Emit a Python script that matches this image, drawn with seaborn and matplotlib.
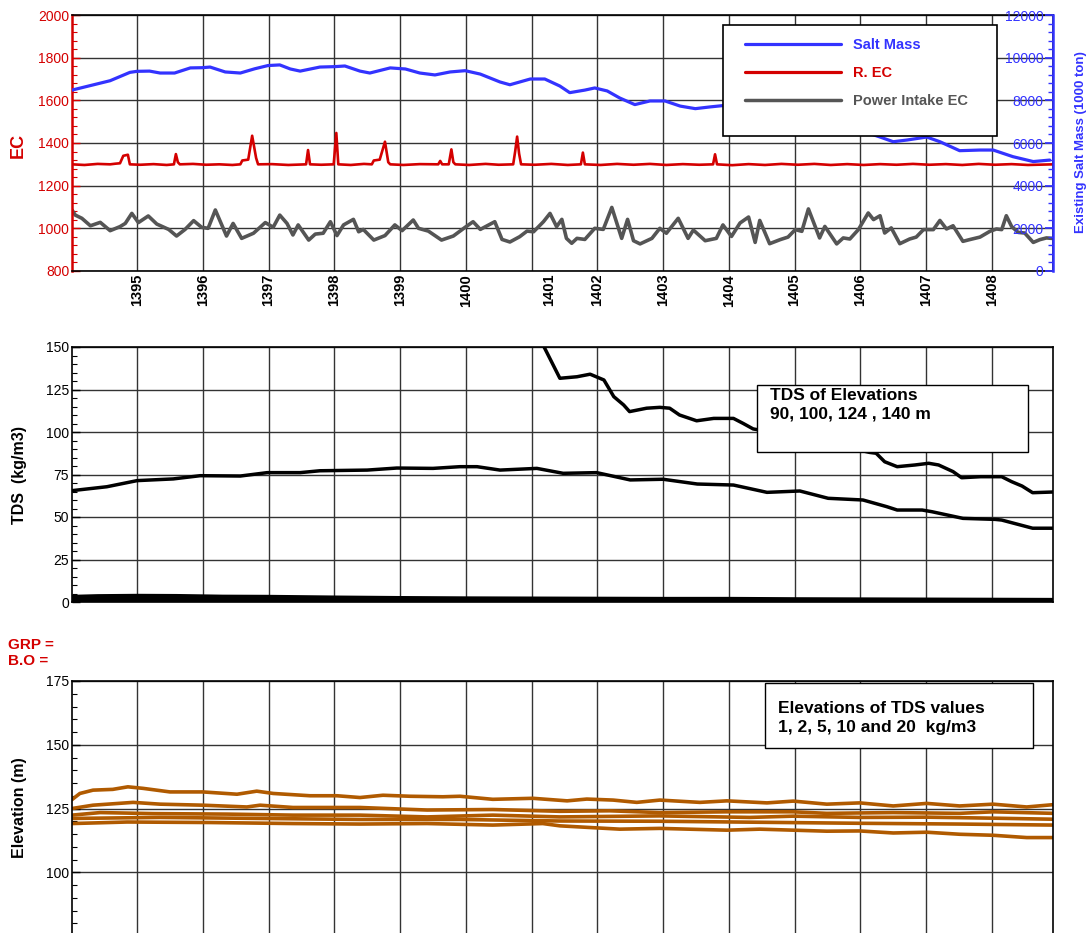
import matplotlib
matplotlib.use("Agg")
import matplotlib.pyplot as plt
import numpy as np
import pandas as pd
import seaborn as sns
from matplotlib.patches import Rectangle
from matplotlib.lines import Line2D
from matplotlib.ticker import MultipleLocator

# ---------------- data ----------------
year_grid = [1395, 1396, 1397, 1398, 1399, 1400, 1401, 1402, 1403, 1404, 1405, 1406, 1407, 1408]
year_label_pos = [1395, 1396, 1397, 1398, 1399, 1400, 1401.26, 1402, 1403, 1404, 1405, 1406, 1407, 1408]
year_labels = ["1395", "1396", "1397", "1398", "1399", "1400", "1401", "1402", "1403", "1404",
               "1405", "1406", "1407", "1408"]

# Existing salt mass (1000 ton)
salt_mass = [
    (1394.01, 8480), (1394.59, 8920), (1394.89, 9310), (1395.00, 9360), (1395.19, 9370), (1395.35, 9280),
    (1395.57, 9280), (1395.81, 9520), (1395.99, 9530), (1396.11, 9560), (1396.34, 9330), (1396.57, 9280),
    (1396.79, 9480), (1396.99, 9630), (1397.17, 9660), (1397.33, 9470), (1397.48, 9370), (1397.78, 9560),
    (1398.01, 9580), (1398.16, 9610), (1398.39, 9370), (1398.54, 9280), (1398.85, 9520), (1399.08, 9470),
    (1399.30, 9280), (1399.53, 9190), (1399.76, 9330), (1399.99, 9390), (1400.22, 9230), (1400.52, 8860),
    (1400.67, 8730), (1400.98, 9000), (1401.20, 9000), (1401.43, 8670), (1401.58, 8360), (1401.81, 8480),
    (1401.96, 8580), (1402.15, 8440), (1402.34, 8110), (1402.57, 7800), (1402.80, 7970), (1403.03, 7970),
    (1403.26, 7730), (1403.49, 7610), (1403.71, 7690), (1403.90, 7750), (1404.17, 7800), (1404.78, 7600),
    (1405.39, 7150), (1405.99, 6600), (1406.30, 6280), (1406.50, 6060), (1406.71, 6140), (1407.01, 6280),
    (1407.21, 6060), (1407.51, 5640), (1407.82, 5670), (1408.02, 5670), (1408.32, 5360), (1408.63, 5130),
    (1408.88, 5200)]

# River EC
river_ec = [
    (1394.01, 1300), (1394.20, 1297), (1394.40, 1302), (1394.59, 1300), (1394.67, 1303), (1394.74, 1305),
    (1394.79, 1340), (1394.86, 1345), (1394.89, 1300), (1395.05, 1298), (1395.25, 1301), (1395.45, 1297),
    (1395.56, 1300), (1395.59, 1348), (1395.62, 1310), (1395.65, 1300), (1395.85, 1302), (1396.05, 1298),
    (1396.25, 1300), (1396.45, 1297), (1396.57, 1300), (1396.60, 1318), (1396.69, 1322), (1396.75, 1434),
    (1396.81, 1330), (1396.84, 1300), (1397.05, 1301), (1397.30, 1297), (1397.57, 1300), (1397.60, 1367),
    (1397.63, 1300), (1397.80, 1298), (1397.99, 1300), (1398.03, 1447), (1398.06, 1300), (1398.25, 1297),
    (1398.45, 1302), (1398.57, 1300), (1398.60, 1318), (1398.69, 1322), (1398.77, 1406), (1398.82, 1310),
    (1398.85, 1300), (1399.05, 1297), (1399.30, 1301), (1399.58, 1300), (1399.61, 1316), (1399.64, 1300),
    (1399.74, 1300), (1399.78, 1370), (1399.81, 1310), (1399.84, 1300), (1400.05, 1297), (1400.30, 1302),
    (1400.50, 1298), (1400.72, 1300), (1400.75, 1360), (1400.78, 1430), (1400.81, 1350), (1400.84, 1300),
    (1401.05, 1298), (1401.30, 1302), (1401.55, 1297), (1401.75, 1300), (1401.78, 1355), (1401.81, 1300),
    (1402.05, 1297), (1402.30, 1302), (1402.55, 1298), (1402.80, 1302), (1403.05, 1297), (1403.30, 1301),
    (1403.55, 1298), (1403.76, 1300), (1403.79, 1347), (1403.82, 1300), (1404.05, 1296), (1404.30, 1301),
    (1404.55, 1297), (1404.80, 1302), (1405.05, 1298), (1405.30, 1302), (1405.55, 1297), (1405.80, 1301),
    (1406.05, 1297), (1406.30, 1301), (1406.55, 1298), (1406.80, 1302), (1407.05, 1298), (1407.30, 1301),
    (1407.55, 1297), (1407.80, 1302), (1408.05, 1298), (1408.30, 1301), (1408.55, 1297), (1408.93, 1300)]

# Power intake EC
intake_ec = [
    (1394.01, 1086), (1394.06, 1062), (1394.16, 1047), (1394.29, 1012), (1394.44, 1028), (1394.59, 989),
    (1394.74, 1008), (1394.82, 1023), (1394.92, 1070), (1395.02, 1027), (1395.17, 1058), (1395.30, 1020),
    (1395.48, 995), (1395.60, 964), (1395.73, 995), (1395.86, 1036), (1395.98, 1005), (1396.08, 1000),
    (1396.19, 1086), (1396.36, 964), (1396.46, 1023), (1396.59, 953), (1396.77, 977), (1396.95, 1027),
    (1397.07, 1005), (1397.17, 1062), (1397.28, 1023), (1397.37, 969), (1397.45, 1016), (1397.61, 945),
    (1397.71, 973), (1397.83, 977), (1397.94, 1031), (1398.04, 966), (1398.14, 1016), (1398.29, 1042),
    (1398.37, 984), (1398.44, 995), (1398.60, 945), (1398.77, 966), (1398.92, 1016), (1399.03, 989),
    (1399.20, 1039), (1399.28, 1000), (1399.43, 987), (1399.63, 945), (1399.81, 964), (1399.99, 1005),
    (1400.11, 1031), (1400.22, 995), (1400.44, 1031), (1400.55, 948), (1400.67, 936), (1400.82, 961),
    (1400.93, 987), (1401.03, 984), (1401.18, 1031), (1401.28, 1070), (1401.38, 1008), (1401.46, 1042),
    (1401.53, 953), (1401.61, 930), (1401.69, 953), (1401.81, 948), (1401.96, 1000), (1402.09, 995),
    (1402.22, 1098), (1402.37, 953), (1402.46, 1042), (1402.55, 942), (1402.65, 927), (1402.83, 953),
    (1402.95, 1000), (1403.05, 977), (1403.23, 1047), (1403.38, 953), (1403.46, 992), (1403.64, 942),
    (1403.81, 953), (1403.91, 1016), (1404.04, 962), (1404.17, 1025), (1404.30, 1053), (1404.40, 934),
    (1404.47, 1037), (1404.62, 928), (1404.78, 947), (1404.90, 959), (1405.01, 994), (1405.11, 986),
    (1405.21, 1091), (1405.38, 955), (1405.46, 1009), (1405.64, 927), (1405.74, 955), (1405.84, 950),
    (1405.97, 994), (1406.12, 1072), (1406.20, 1041), (1406.30, 1059), (1406.37, 978), (1406.47, 1002),
    (1406.60, 928), (1406.75, 950), (1406.85, 959), (1406.96, 994), (1407.11, 994), (1407.21, 1037),
    (1407.31, 997), (1407.41, 1012), (1407.56, 939), (1407.66, 947), (1407.82, 959), (1407.97, 986),
    (1408.07, 997), (1408.15, 994), (1408.22, 1059), (1408.30, 1009), (1408.40, 981), (1408.50, 978),
    (1408.63, 934), (1408.73, 947), (1408.83, 955), (1408.91, 953)]

# TDS (kg/m3) at elevations 90, 100, 124, 140 m
tds_90m = [
    (1394.01, 230), (1398.00, 200), (1400.50, 170), (1400.95, 158), (1401.19, 150), (1401.43, 131.6),
    (1401.69, 132.5), (1401.89, 134.0), (1402.10, 130.6), (1402.25, 120.8), (1402.40, 115.9), (1402.49, 112.0),
    (1402.75, 114.0), (1402.95, 114.5), (1403.10, 114.0), (1403.25, 110.0), (1403.51, 106.6), (1403.77, 108.0),
    (1404.07, 108.0), (1404.22, 105.0), (1404.37, 101.8), (1405.08, 97.0), (1405.69, 92.0), (1406.14, 88.0),
    (1406.24, 87.5), (1406.37, 82.5), (1406.56, 79.6), (1406.83, 80.6), (1407.04, 81.6), (1407.19, 80.6),
    (1407.41, 76.7), (1407.54, 73.1), (1407.83, 73.7), (1408.15, 73.7), (1408.30, 70.8), (1408.46, 68.2),
    (1408.62, 64.3), (1408.93, 64.7)]
tds_100m = [
    (1394.01, 65.5), (1394.54, 67.8), (1395.00, 71.4), (1395.55, 72.4), (1395.96, 74.3), (1396.57, 74.1),
    (1396.98, 76.1), (1397.48, 76.1), (1397.78, 77.2), (1398.50, 77.6), (1398.95, 78.8), (1399.50, 78.6),
    (1399.91, 79.6), (1400.17, 79.6), (1400.52, 77.6), (1401.08, 78.6), (1401.48, 75.7), (1401.99, 76.1),
    (1402.50, 71.8), (1403.00, 72.2), (1403.52, 69.4), (1404.07, 68.8), (1404.58, 64.5), (1405.08, 65.3),
    (1405.51, 61.0), (1406.04, 60.0), (1406.40, 56.1), (1406.56, 54.1), (1406.94, 54.1), (1407.09, 53.1),
    (1407.56, 49.2), (1408.05, 48.6), (1408.15, 48.2), (1408.62, 43.4), (1408.93, 43.4)]
tds_124m = [
    (1394.01, 2.8), (1394.40, 3.2), (1395.00, 3.4), (1395.60, 3.3), (1396.30, 2.9), (1397.00, 2.8),
    (1398.00, 2.4), (1399.00, 2.1), (1400.00, 1.9), (1401.00, 1.8), (1402.00, 1.7), (1403.00, 1.6),
    (1404.00, 1.6), (1405.00, 1.4), (1406.00, 1.3), (1407.00, 1.2), (1408.00, 1.1), (1408.93, 1.0)]
tds_140m = [
    (1394.01, 1.2), (1395.00, 1.3), (1396.00, 1.1), (1397.00, 1.0), (1398.00, 0.9), (1400.00, 0.8),
    (1402.00, 0.7), (1404.00, 0.7), (1406.00, 0.6), (1408.93, 0.5)]

# Elevations (m) of TDS values 1, 2, 5, 10, 20 kg/m3
elev_tds1 = [
    (1394.01, 128.5), (1394.13, 130.9), (1394.33, 132.2), (1394.63, 132.5), (1394.86, 133.5), (1395.09, 132.9),
    (1395.50, 131.5), (1396.00, 131.5), (1396.52, 130.6), (1396.82, 131.8), (1397.07, 130.9), (1397.63, 130.0),
    (1398.04, 130.0), (1398.39, 129.3), (1398.74, 130.2), (1399.15, 129.8), (1399.65, 129.6), (1399.91, 129.8),
    (1400.41, 128.6), (1401.02, 129.0), (1401.54, 128.0), (1401.84, 128.7), (1402.24, 128.3), (1402.60, 127.4),
    (1402.95, 128.3), (1403.56, 127.4), (1403.97, 128.0), (1404.58, 127.2), (1404.98, 127.9), (1405.49, 126.7),
    (1405.99, 127.2), (1406.50, 126.0), (1407.01, 127.0), (1407.51, 126.0), (1408.02, 126.7), (1408.53, 125.6),
    (1408.93, 126.5)]
elev_tds2 = [
    (1394.01, 125.0), (1394.33, 126.3), (1394.94, 127.4), (1395.35, 126.7), (1396.00, 126.3), (1396.67, 125.6),
    (1396.87, 126.3), (1397.37, 125.4), (1398.39, 125.4), (1399.41, 124.4), (1400.41, 124.6), (1401.43, 123.9),
    (1402.19, 124.1), (1402.95, 123.4), (1403.97, 123.7), (1404.98, 123.7), (1405.49, 123.1), (1406.50, 123.4),
    (1407.51, 123.1), (1408.02, 123.7), (1408.93, 123.1)]
elev_tds5 = [
    (1394.01, 122.4), (1394.44, 123.4), (1395.24, 123.0), (1396.37, 122.8), (1397.37, 122.4), (1398.39, 122.4),
    (1399.41, 121.7), (1400.41, 122.4), (1401.43, 121.7), (1402.95, 122.1), (1404.32, 121.5), (1404.98, 122.0),
    (1405.99, 121.5), (1407.01, 121.6), (1408.02, 121.2), (1408.93, 120.8)]
elev_tds10 = [
    (1394.01, 121.1), (1395.35, 121.5), (1396.87, 121.1), (1398.39, 120.7), (1399.91, 120.7), (1401.43, 120.1),
    (1402.95, 120.0), (1404.47, 119.6), (1405.99, 119.2), (1407.51, 118.9), (1408.93, 118.5)]
elev_tds20 = [
    (1394.01, 119.1), (1394.85, 119.7), (1396.11, 119.5), (1397.37, 119.1), (1398.39, 118.9), (1399.41, 119.1),
    (1400.41, 118.5), (1401.17, 119.1), (1401.43, 118.2), (1402.34, 116.9), (1402.95, 117.2), (1403.97, 116.5),
    (1404.47, 116.9), (1405.49, 116.1), (1405.99, 116.2), (1406.50, 115.4), (1407.01, 115.7), (1407.51, 114.9),
    (1408.02, 114.5), (1408.53, 113.6), (1408.93, 113.6)]

# ---------------- style ----------------
sns.set_theme(style="white")
plt.rcParams['font.family'] = ['Liberation Sans', 'DejaVu Sans']

W, H = 1092, 933
RED = '#d40000'
BLUE = '#3333ff'
GRAY = '#555555'
ORANGE = '#b05a00'
GRID = '#333333'
XMIN, XMAX = 1394.01, 1408.93


def fx(px):
    return px / W


def fy(py):
    return 1 - py / H


def draw(ax, pairs, **kw):
    df = pd.DataFrame(pairs, columns=['t', 'v'])
    sns.lineplot(data=df, x='t', y='v', ax=ax, estimator=None, sort=False, **kw)
    ax.set_xlabel('')
    ax.set_ylabel('')


fig = plt.figure(figsize=(W / 100, H / 100), dpi=100)
fig.patch.set_facecolor('white')

L, R = 72, 1053
ax1 = fig.add_axes([fx(L), fy(271), fx(R - L), 256 / H])
ax_mid = fig.add_axes([fx(L), fy(602), fx(R - L), 255 / H])
ax_bot = fig.add_axes([fx(L), fy(936), fx(R - L), 255 / H])


def base_axis(ax, ylim, major, minor, tick_color='black'):
    ax.set_xlim(XMIN, XMAX)
    ax.set_ylim(*ylim)
    ax.set_xticks(year_grid)
    ax.set_xticklabels([])
    ax.yaxis.set_major_locator(MultipleLocator(major))
    ax.yaxis.set_minor_locator(MultipleLocator(minor))
    ax.grid(True, which='major', axis='both', color=GRID, linewidth=1.0)
    ax.set_axisbelow(True)
    ax.tick_params(axis='x', which='both', length=0)
    ax.tick_params(axis='y', which='major', direction='in', length=6, width=1.0,
                   color=tick_color, labelcolor=tick_color, labelsize=10, pad=2, left=True)
    ax.tick_params(axis='y', which='minor', direction='in', length=3.5, width=0.8,
                   color=tick_color, left=True)
    for s in ax.spines.values():
        s.set_color('black')
        s.set_linewidth(1.2)
        s.set_visible(True)


# ---------------- top panel ----------------
base_axis(ax1, (800, 2000), 200, 40, tick_color=RED)
ax1.spines['left'].set_color(RED)
ax1.spines['left'].set_linewidth(1.8)
draw(ax1, intake_ec, color=GRAY, linewidth=2.6)
draw(ax1, river_ec, color=RED, linewidth=1.9)
ax1.xaxis.remove_overlapping_locs = False
ax1.set_xticks(year_label_pos, labels=year_labels, minor=True)
for lab in ax1.get_xticklabels(minor=True):
    lab.set_fontweight('bold')
    lab.set_rotation(90)
    lab.set_fontsize(10.5)
ax1.tick_params(axis='x', which='minor', length=0, pad=2, labelcolor='black')

ax2 = ax1.twinx()
ax2.set_xlim(XMIN, XMAX)
draw(ax2, salt_mass, color=BLUE, linewidth=2.3)
ax2.set_ylim(0, 12000)
ax2.yaxis.set_major_locator(MultipleLocator(2000))
ax2.yaxis.set_minor_locator(MultipleLocator(400))
ax2.tick_params(axis='y', which='major', direction='in', length=6, color=BLUE,
                labelcolor=BLUE, labelsize=10, pad=-7, right=True)
ax2.tick_params(axis='y', which='minor', direction='in', length=3.5, color=BLUE, right=True)
for t in ax2.yaxis.get_major_ticks():
    t.label2.set_horizontalalignment('right')
ax2.spines['right'].set_color(BLUE)
ax2.spines['right'].set_linewidth(1.8)
ax2.spines['left'].set_visible(False)
ax2.spines['top'].set_visible(False)
ax2.spines['bottom'].set_visible(False)
ax2.grid(False)

# legend box
fig.add_artist(Rectangle((fx(723), fy(136)), fx(274), 111 / H, transform=fig.transFigure,
                         facecolor='white', edgecolor='black', linewidth=1.2, zorder=3))
handles = [Line2D([], [], color=BLUE, lw=2.3), Line2D([], [], color=RED, lw=2.3),
           Line2D([], [], color=GRAY, lw=2.5)]
leg = fig.legend(handles, ['Salt Mass', 'R. EC', 'Power Intake EC'], loc='upper left',
                 bbox_to_anchor=(fx(745), fy(38)), frameon=False, handlelength=6.6,
                 handletextpad=0.8, labelspacing=0.95, borderpad=0, borderaxespad=0,
                 prop={'weight': 'bold', 'size': 10.5})
leg.set_zorder(5)
for txt, c in zip(leg.get_texts(), [BLUE, RED, GRAY]):
    txt.set_color(c)

fig.text(fx(18), fy(145), 'EC', rotation=90, color=RED, fontsize=13, fontweight='bold',
         ha='center', va='center')
fig.text(fx(1081), fy(142), 'Existing Salt Mass (1000 ton)', rotation=90, color=BLUE,
         fontsize=9.5, fontweight='bold', ha='center', va='center')

# ---------------- middle panel ----------------
base_axis(ax_mid, (0, 150), 25, 5)
for series in (tds_90m, tds_100m):
    draw(ax_mid, series, color='black', linewidth=2.5)
for series in (tds_124m, tds_140m):
    draw(ax_mid, series, color='black', linewidth=3.5)
fig.text(fx(20), fy(475), 'TDS  (kg/m3)', rotation=90, color='black', fontsize=11.5,
         fontweight='bold', ha='center', va='center')
fig.add_artist(Rectangle((fx(757), fy(452)), fx(271), 67 / H, transform=fig.transFigure,
                         facecolor='white', edgecolor='black', linewidth=1.0, zorder=3))
fig.text(fx(770), fy(388), 'TDS of Elevations\n90, 100, 124 , 140 m', color='black',
         fontsize=12.5, fontweight='bold', ha='left', va='top', zorder=4, linespacing=1.3)

# ---------------- bottom panel ----------------
base_axis(ax_bot, (75, 175), 25, 5)
ax_bot.set_yticks([100, 125, 150, 175])
for series in (elev_tds1, elev_tds2, elev_tds5, elev_tds10, elev_tds20):
    draw(ax_bot, series, color=ORANGE, linewidth=2.6)
ax_bot.spines['bottom'].set_visible(False)
fig.text(fx(20), fy(808), 'Elevation (m)', rotation=90, color='black', fontsize=11.5,
         fontweight='bold', ha='center', va='center')
fig.add_artist(Rectangle((fx(765), fy(748)), fx(268), 65 / H, transform=fig.transFigure,
                         facecolor='white', edgecolor='black', linewidth=1.0, zorder=3))
fig.text(fx(778), fy(701), 'Elevations of TDS values\n1, 2, 5, 10 and 20  kg/m3', color='black',
         fontsize=12.5, fontweight='bold', ha='left', va='top', zorder=4, linespacing=1.3)

fig.text(fx(8), fy(645), 'GRP =', color=RED, fontsize=11, fontweight='bold', ha='left', va='center')
fig.text(fx(8), fy(661), 'B.O =', color=RED, fontsize=11, fontweight='bold', ha='left', va='center')

fig.savefig('out.png', dpi=100, facecolor='white')
